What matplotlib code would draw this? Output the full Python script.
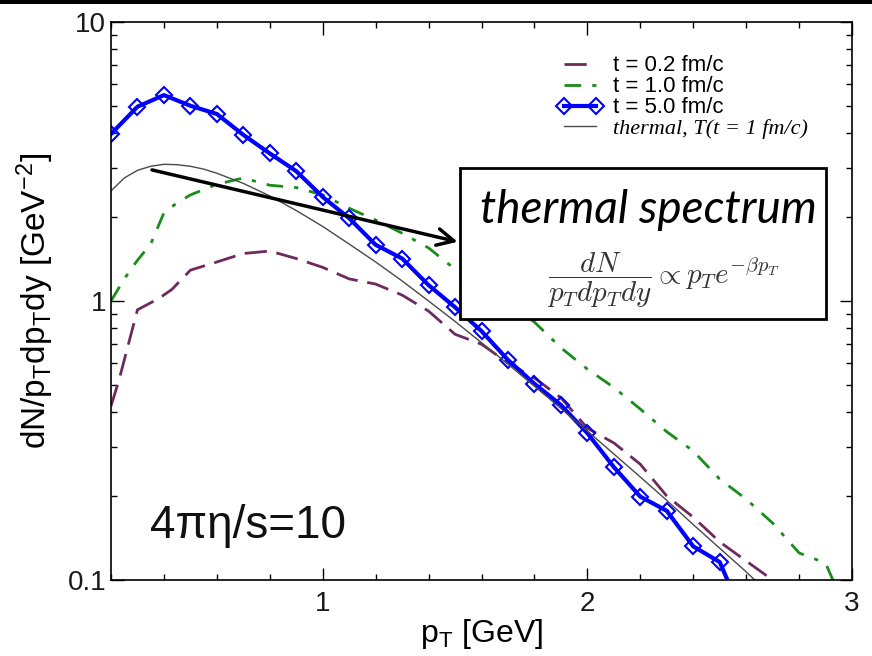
import matplotlib
matplotlib.use("Agg")
import matplotlib.pyplot as plt
from matplotlib import font_manager
from matplotlib.patches import Rectangle
from matplotlib.ticker import MultipleLocator, FixedLocator, NullFormatter

# --- data ---
pt_blue = [0.2, 0.3, 0.4, 0.5, 0.6, 0.7, 0.8, 0.9, 1.0, 1.1, 1.2, 1.3, 1.4,
           1.5, 1.6, 1.7, 1.8, 1.9, 2.0, 2.1, 2.2, 2.3, 2.4, 2.5, 2.6]
t50 = [3.97, 4.97, 5.47, 5.01, 4.68, 3.94, 3.38, 2.92, 2.36, 1.98, 1.59, 1.42, 1.14,
       0.95, 0.78, 0.615, 0.505, 0.424, 0.336, 0.254, 0.199, 0.177, 0.132, 0.116, 0.07]

pt_purple = [0.2, 0.23, 0.3, 0.38, 0.43, 0.5, 0.6, 0.7, 0.8, 0.9, 1.0, 1.1, 1.2, 1.3,
             1.4, 1.5, 1.6, 1.7, 1.8, 1.9, 2.0, 2.1, 2.2, 2.3, 2.4, 2.5, 2.6, 2.7, 2.75]
t02 = [0.42, 0.52, 0.93, 1.02, 1.10, 1.29, 1.38, 1.48, 1.51, 1.42, 1.32, 1.20, 1.15, 1.05,
       0.92, 0.76, 0.70, 0.60, 0.53, 0.45, 0.35, 0.31, 0.26, 0.20, 0.168, 0.137, 0.117, 0.10, 0.09]

pt_green = [0.2, 0.25, 0.3, 0.35, 0.4, 0.45, 0.5, 0.6, 0.7, 0.8, 0.9, 1.0, 1.1, 1.2, 1.3,
            1.4, 1.5, 1.6, 1.7, 1.8, 1.9, 2.0, 2.1, 2.2, 2.3, 2.4, 2.5, 2.6, 2.7, 2.8,
            2.9, 2.96]
t10 = [1.0, 1.2, 1.40, 1.6, 2.07, 2.25, 2.40, 2.62, 2.76, 2.60, 2.55, 2.40, 2.15, 1.95, 1.75,
       1.55, 1.30, 1.12, 0.98, 0.84, 0.68, 0.57, 0.49, 0.41, 0.34, 0.29, 0.23, 0.195, 0.16, 0.125,
       0.115, 0.085]

pt_th = [0.2, 0.25, 0.3, 0.35, 0.4, 0.45, 0.5, 0.55, 0.6, 0.7, 0.8, 0.9, 1.0, 1.1, 1.2,
         1.3, 1.4, 1.5, 1.6, 1.7, 1.8, 1.9, 2.0, 2.1, 2.2, 2.3, 2.4, 2.5, 2.6, 2.7]
thermal = [2.48, 2.76, 2.94, 3.04, 3.09, 3.08, 3.04, 2.97, 2.87, 2.64, 2.38, 2.11, 1.85,
           1.60, 1.38, 1.18, 1.00, 0.845, 0.709, 0.594, 0.495, 0.412, 0.342, 0.283, 0.234,
           0.193, 0.158, 0.130, 0.107, 0.087]

labels = ["t = 0.2 fm/c", "t = 1.0 fm/c", "t = 5.0 fm/c", "thermal, T(t = 1 fm/c)"]

# fonts
names = {f.name for f in font_manager.fontManager.ttflist}
sans = "Liberation Sans" if "Liberation Sans" in names else "DejaVu Sans"
plt.rcParams["font.family"] = [sans, "DejaVu Sans"]
plt.rcParams["mathtext.fontset"] = "custom"
plt.rcParams["mathtext.rm"] = sans
plt.rcParams["mathtext.it"] = sans + ":italic"

fig = plt.figure(figsize=(8.72, 6.56), dpi=100)
ax = fig.add_axes([111 / 872, 76 / 656, 741 / 872, 558 / 656])

ax.plot(pt_purple, t02, color="#6e2a5e", lw=2, dashes=(8, 3.5), label=labels[0])
ax.plot(pt_green, t10, color="#1a8c1a", lw=2, dashes=(6, 4, 1.5, 4), label=labels[1])
ax.plot(pt_blue, t50, color="#0000ff", lw=3, marker="D", ms=8, mfc="none",
        mec="#0000ff", mew=1.5, label=labels[2])
ax.plot(pt_th, thermal, color="#4a4a4a", lw=1, label=labels[3])

ax.set_yscale("log")
ax.set_xlim(0.2, 3)
ax.set_ylim(0.1, 10)
ax.xaxis.set_major_locator(FixedLocator([1, 2, 3]))
ax.xaxis.set_minor_locator(MultipleLocator(0.2))
ax.set_yticks([0.1, 1, 10])
ax.set_yticklabels(["0.1", "1", "10"])
ax.yaxis.set_minor_formatter(NullFormatter())
ax.tick_params(which="both", direction="in", top=True, right=True, labelsize=20,
               labelcolor="#1a1a1a")
ax.tick_params(which="major", length=9, width=1)
ax.tick_params(which="minor", length=4.5, width=1)
ax.tick_params(axis="x", pad=8)
for s in ax.spines.values():
    s.set_linewidth(1.2)

ax.set_xlabel("p$_\\mathrm{T}$ [GeV]", fontsize=23, labelpad=0)
ax.set_ylabel("dN/p$_\\mathrm{T}$dp$_\\mathrm{T}$dy [GeV$^{-2}$]", fontsize=24, labelpad=8)

leg = ax.legend(loc="upper left", bbox_to_anchor=(0.603, 0.94), frameon=False,
                fontsize=16, labelspacing=0.0, handlelength=2.0, handletextpad=0.5,
                borderpad=0, borderaxespad=0, numpoints=2)
last = leg.get_texts()[3]
last.set_fontfamily("Liberation Serif")
last.set_fontstyle("italic")

ax.text(0.053, 0.075, "4\u03c0\u03b7/s=10", transform=ax.transAxes, fontsize=33,
        color="#111111")

# annotation box
ax.add_patch(Rectangle((0.471, 0.468), 0.494, 0.271, transform=ax.transAxes,
                       facecolor="white", edgecolor="black", lw=2, zorder=5))
ax.text(0.725, 0.640, "thermal spectrum", transform=ax.transAxes, fontsize=33,
        family=["Lato", "DejaVu Sans"], style="italic", ha="center",
        va="baseline", zorder=6)
ax.text(0.745, 0.536, r"$\dfrac{dN}{p_T dp_T dy} \propto p_T e^{-\beta p_T}$",
        transform=ax.transAxes, fontsize=21, math_fontfamily="cm", ha="center",
        va="center", color="#333333", zorder=6)
ax.annotate("", xy=(1.51, 1.63), xytext=(0.355, 2.95),
            arrowprops=dict(arrowstyle="->", lw=2.5, color="black",
                            mutation_scale=30, shrinkA=0, shrinkB=0), zorder=6)

fig.patches.append(Rectangle((0, 1 - 4 / 656), 1, 4 / 656, transform=fig.transFigure,
                             facecolor="black", edgecolor="none"))

fig.savefig("out.png", dpi=100)
